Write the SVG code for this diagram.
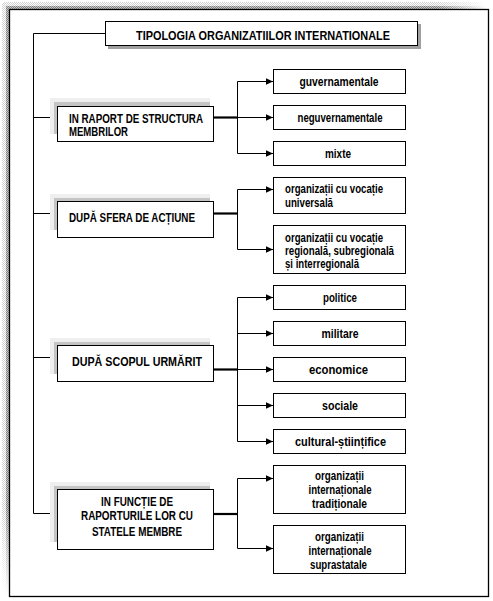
<svg xmlns="http://www.w3.org/2000/svg" width="493" height="601" viewBox="0 0 493 601">
<style>
.box{fill:#fff;stroke:#000;stroke-width:1}
.sh1{fill:#efefef}
.sh2{fill:#c4c4c4}
.t{font-family:"Liberation Sans",Arial,sans-serif;font-weight:bold;fill:#000}
.big{font-size:13.5px}
.sm{font-size:12px}
.ln{fill:none;stroke:#000;stroke-width:1}
.thick{fill:none;stroke:#000;stroke-width:2.2}
</style>
<defs>
<pattern id="chkD" width="2" height="2" patternUnits="userSpaceOnUse"><rect x="0" y="0" width="1" height="1" fill="#808080"/><rect x="1" y="1" width="1" height="1" fill="#808080"/><rect x="1" y="0" width="1" height="1" fill="#c8c8c8"/><rect x="0" y="1" width="1" height="1" fill="#c8c8c8"/></pattern>
<pattern id="chkL" width="2" height="2" patternUnits="userSpaceOnUse"><rect x="0" y="0" width="1" height="1" fill="#d0d0d0"/><rect x="1" y="1" width="1" height="1" fill="#d0d0d0"/></pattern>
<linearGradient id="fadeV" x1="0" y1="0" x2="0" y2="1"><stop offset="0.85" stop-color="#fff" stop-opacity="1"/><stop offset="1" stop-color="#fff" stop-opacity="0"/></linearGradient>
<linearGradient id="fadeH" x1="0" y1="0" x2="1" y2="0"><stop offset="0.9" stop-color="#fff" stop-opacity="1"/><stop offset="1" stop-color="#fff" stop-opacity="0"/></linearGradient>
<mask id="mV"><rect x="0" y="0" width="12" height="596" fill="url(#fadeV)"/></mask>
<mask id="mH"><rect x="0" y="0" width="486" height="12" fill="url(#fadeH)"/></mask>
<marker id="ar" markerUnits="userSpaceOnUse" markerWidth="8" markerHeight="8" refX="7" refY="4" orient="auto"><path d="M0,0.8 L7,4 L0,7.2 Z" fill="#000"/></marker>
</defs>

<g id="frame">
<g mask="url(#mV)"><rect x="2" y="3" width="4" height="592" fill="url(#chkL)"/><rect x="6" y="6" width="3" height="589" fill="url(#chkD)"/></g>
<g mask="url(#mH)"><rect x="3" y="2" width="482" height="4" fill="url(#chkL)"/><rect x="6" y="6" width="479" height="3" fill="url(#chkD)"/></g>
<rect x="9.5" y="9.5" width="479" height="587" fill="#fff" stroke="#000" stroke-width="1.3"/>
</g>

<g id="connectors">
<path class="ln" d="M105,33.5 H33.5 V513.5"/>
<path class="ln" d="M33.5,117.5 H57" marker-end="url(#ar)"/>
<path class="ln" d="M33.5,213.5 H57" marker-end="url(#ar)"/>
<path class="ln" d="M33.5,357.5 H57" marker-end="url(#ar)"/>
<path class="ln" d="M33.5,513.5 H57" marker-end="url(#ar)"/>

<path class="thick" d="M213,117.5 H237.5"/>
<path class="ln" d="M237.5,81.5 V153.5"/>
<path class="ln" d="M237.5,81.5 H273" marker-end="url(#ar)"/>
<path class="ln" d="M237.5,117.5 H273" marker-end="url(#ar)"/>
<path class="ln" d="M237.5,153.5 H273" marker-end="url(#ar)"/>

<path class="thick" d="M213,213.5 H237.5"/>
<path class="ln" d="M237.5,189.5 V249.5"/>
<path class="ln" d="M237.5,189.5 H273" marker-end="url(#ar)"/>
<path class="ln" d="M237.5,249.5 H273" marker-end="url(#ar)"/>

<path class="thick" d="M213,369.5 H237.5"/>
<path class="ln" d="M237.5,297.5 V441.5"/>
<path class="ln" d="M237.5,297.5 H273" marker-end="url(#ar)"/>
<path class="ln" d="M237.5,333.5 H273" marker-end="url(#ar)"/>
<path class="ln" d="M237.5,369.5 H273" marker-end="url(#ar)"/>
<path class="ln" d="M237.5,405.5 H273" marker-end="url(#ar)"/>
<path class="ln" d="M237.5,441.5 H273" marker-end="url(#ar)"/>

<path class="thick" d="M213,514 H237.5"/>
<path class="ln" d="M237.5,478.5 V548.5"/>
<path class="ln" d="M237.5,478.5 H273" marker-end="url(#ar)"/>
<path class="ln" d="M237.5,548.5 H273" marker-end="url(#ar)"/>
</g>

<g id="title">
<rect x="108" y="24" width="313" height="25" fill="#a0a0a0"/>
<rect class="box" x="105.5" y="21.5" width="312" height="24"/>
<text class="t" x="263" y="39.5" font-size="13" text-anchor="middle" textLength="254" lengthAdjust="spacingAndGlyphs">TIPOLOGIA ORGANIZATIILOR INTERNATIONALE</text>
</g>

<g id="n1">
<rect class="sh1" x="50" y="98" width="160" height="36"/>
<rect class="sh2" x="54" y="102" width="156" height="32"/>
<rect class="box" x="57.5" y="106.5" width="156" height="35"/>
<text class="t big" x="69" y="122.5" textLength="134" lengthAdjust="spacingAndGlyphs">IN RAPORT DE STRUCTURA</text>
<text class="t big" x="69" y="136" textLength="59" lengthAdjust="spacingAndGlyphs">MEMBRILOR</text>
</g>

<g id="n1a"><rect class="box" x="273.5" y="69.5" width="132" height="24"/><text class="t sm" x="339" y="86" text-anchor="middle" textLength="79" lengthAdjust="spacingAndGlyphs">guvernamentale</text></g>
<g id="n1b"><rect class="box" x="273.5" y="105.5" width="132" height="24"/><text class="t sm" x="340" y="122" text-anchor="middle" textLength="85" lengthAdjust="spacingAndGlyphs">neguvernamentale</text></g>
<g id="n1c"><rect class="box" x="273.5" y="141.5" width="132" height="24"/><text class="t sm" x="338" y="158" text-anchor="middle" textLength="26" lengthAdjust="spacingAndGlyphs">mixte</text></g>

<g id="n2">
<rect class="sh1" x="50" y="194" width="160" height="36"/>
<rect class="sh2" x="54" y="198" width="156" height="32"/>
<rect class="box" x="57.5" y="201.5" width="156" height="36"/>
<text class="t big" x="69" y="221.5" textLength="126" lengthAdjust="spacingAndGlyphs">DUPĂ SFERA DE ACȚIUNE</text>
</g>

<g id="n2a"><rect class="box" x="273.5" y="177.5" width="132" height="36"/>
<text class="t sm" x="285" y="193" textLength="98" lengthAdjust="spacingAndGlyphs">organizații cu vocație</text>
<text class="t sm" x="285" y="207" textLength="48" lengthAdjust="spacingAndGlyphs">universală</text></g>
<g id="n2b"><rect class="box" x="273.5" y="225.5" width="132" height="48"/>
<text class="t sm" x="285" y="242" textLength="98" lengthAdjust="spacingAndGlyphs">organizații cu vocație</text>
<text class="t sm" x="285" y="255" textLength="109" lengthAdjust="spacingAndGlyphs">regională, subregională</text>
<text class="t sm" x="285" y="268" textLength="74" lengthAdjust="spacingAndGlyphs">și interregională</text></g>

<g id="n3">
<rect class="sh1" x="50" y="338" width="160" height="36"/>
<rect class="sh2" x="54" y="342" width="156" height="32"/>
<rect class="box" x="57.5" y="345.5" width="156" height="36"/>
<text class="t big" x="72" y="365.5" textLength="130" lengthAdjust="spacingAndGlyphs">DUPĂ SCOPUL URMĂRIT</text>
</g>

<g id="n3a"><rect class="box" x="273.5" y="285.5" width="132" height="24"/><text class="t sm" x="340" y="302" text-anchor="middle" textLength="34" lengthAdjust="spacingAndGlyphs">politice</text></g>
<g id="n3b"><rect class="box" x="273.5" y="321.5" width="132" height="24"/><text class="t sm" x="340" y="338" text-anchor="middle" textLength="37" lengthAdjust="spacingAndGlyphs">militare</text></g>
<g id="n3c"><rect class="box" x="273.5" y="357.5" width="132" height="24"/><text class="t sm" x="338.5" y="374" text-anchor="middle" textLength="59" lengthAdjust="spacingAndGlyphs">economice</text></g>
<g id="n3d"><rect class="box" x="273.5" y="393.5" width="132" height="24"/><text class="t sm" x="340" y="410" text-anchor="middle" textLength="36" lengthAdjust="spacingAndGlyphs">sociale</text></g>
<g id="n3e"><rect class="box" x="273.5" y="429.5" width="132" height="24"/><text class="t sm" x="340.5" y="446" text-anchor="middle" textLength="91" lengthAdjust="spacingAndGlyphs">cultural-științifice</text></g>

<g id="n4">
<rect class="sh1" x="50" y="482" width="160" height="60"/>
<rect class="sh2" x="54" y="486" width="156" height="56"/>
<rect class="box" x="57.5" y="489.5" width="156" height="60"/>
<text class="t big" x="137" y="505.5" text-anchor="middle" textLength="72" lengthAdjust="spacingAndGlyphs">IN FUNCȚIE DE</text>
<text class="t big" x="137" y="520" text-anchor="middle" textLength="112" lengthAdjust="spacingAndGlyphs">RAPORTURILE LOR CU</text>
<text class="t big" x="137" y="535.5" text-anchor="middle" textLength="90" lengthAdjust="spacingAndGlyphs">STATELE MEMBRE</text>
</g>

<g id="n4a"><rect class="box" x="273.5" y="465.5" width="132" height="48"/>
<text class="t sm" x="339.5" y="480" text-anchor="middle" textLength="49" lengthAdjust="spacingAndGlyphs">organizații</text>
<text class="t sm" x="340" y="494" text-anchor="middle" textLength="63" lengthAdjust="spacingAndGlyphs">internaționale</text>
<text class="t sm" x="339.5" y="508" text-anchor="middle" textLength="55" lengthAdjust="spacingAndGlyphs">tradiționale</text></g>
<g id="n4b"><rect class="box" x="273.5" y="525.5" width="132" height="48"/>
<text class="t sm" x="339.5" y="541" text-anchor="middle" textLength="49" lengthAdjust="spacingAndGlyphs">organizații</text>
<text class="t sm" x="340" y="555" text-anchor="middle" textLength="63" lengthAdjust="spacingAndGlyphs">internaționale</text>
<text class="t sm" x="338.5" y="569" text-anchor="middle" textLength="57" lengthAdjust="spacingAndGlyphs">suprastatale</text></g>
</svg>
